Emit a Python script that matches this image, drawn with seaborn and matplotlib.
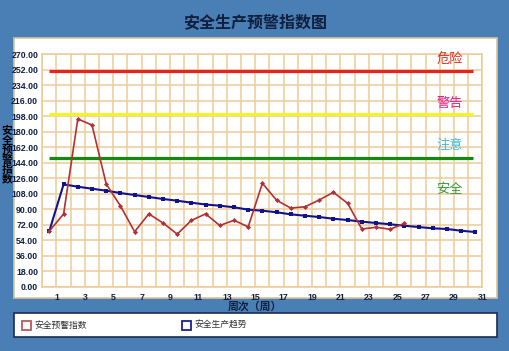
import matplotlib
matplotlib.use("Agg")
import matplotlib.pyplot as plt
import seaborn as sns
import pandas as pd
from matplotlib.patches import Rectangle

sns.set_style("white")
plt.rcParams['font.family'] = ['Noto Sans CJK SC', 'DejaVu Sans']

# ---- data ----
weeks_index = list(range(1, 27))
index_values = [64.9, 84.6, 194.7, 187.7, 119.4, 94.0, 64.1, 84.7, 74.2, 61.3,
                77.2, 84.7, 71.3, 77.3, 69.7, 120.2, 100.5, 91.5, 93.0, 100.8,
                109.7, 97.0, 67.2, 69.2, 66.9, 73.8]
weeks_trend = list(range(1, 32))
trend_values = [65.2, 119.0, 116.2, 113.9, 111.6, 108.9, 106.6, 104.3, 102.0, 100.0,
                97.7, 95.6, 94.2, 92.4, 89.6, 88.4, 86.6, 84.2, 82.6, 81.1,
                79.1, 77.6, 75.7, 74.2, 72.7, 71.0, 69.5, 68.0, 67.2, 65.2, 63.7]
threshold_names = ["危险", "警告", "注意", "安全"]
threshold_values = [250, 200, 150]
threshold_colors = ["#e8231f", "#f4f22a", "#128a12"]
zone_label_values = [263, 213, 164, 113]
zone_label_colors = ["#e0302a", "#e0208a", "#3cc0e0", "#3a9a3a"]
y_ticks = list(range(0, 271, 18))
x_tick_labels = [str(i) if i % 2 == 1 else "" for i in range(0, 32)]
series_names = ["安全预警指数", "安全生产趋势"]

title = "安全生产预警指数图"
x_label = "周次（周）"
y_label = "安全预警指数"

# ---- figure ----
W, H = 510, 351
fig = plt.figure(figsize=(W / 100, H / 100), dpi=100)
fig.patch.set_facecolor("#4a7fb6")

def fx(px):
    return px / W

def fy(py):
    return 1 - py / H

# white panel
fig.patches.append(Rectangle((fx(14), fy(298)), fx(497) - fx(14), fy(38) - fy(298),
                             transform=fig.transFigure, facecolor="white",
                             edgecolor="#d9c39a", linewidth=1.2, zorder=-5))
# legend panel
fig.patches.append(Rectangle((fx(14), fy(337)), fx(497) - fx(14), fy(313) - fy(337),
                             transform=fig.transFigure, facecolor="white",
                             edgecolor="#1c2c50", linewidth=1.2, zorder=-5))

left, right, top, bottom = 42.3, 482.5, 54, 287
ax = fig.add_axes([fx(left), fy(bottom), fx(right) - fx(left), fy(top) - fy(bottom)])
ax.set_facecolor("none")

grid_c = "#eccb98"
df_idx = pd.DataFrame({"x": [w - 0.5 for w in weeks_index], "y": index_values})
df_tr = pd.DataFrame({"x": [w - 0.5 for w in weeks_trend], "y": trend_values})

for v, c in zip(threshold_values, threshold_colors):
    ax.plot([0.5, 30.3], [v, v], color=c, lw=2.3, zorder=2, solid_capstyle="butt")

sns.lineplot(data=df_tr, x="x", y="y", ax=ax, color="#12128c", lw=1.5,
             marker="s", markersize=3.2, markeredgewidth=0, zorder=4)
sns.lineplot(data=df_idx, x="x", y="y", ax=ax, color="#b03232", lw=1.2,
             marker="D", markersize=2.6, markeredgewidth=0, zorder=5)

ax.set_xlim(0, 31)
ax.set_ylim(0, 270)
ax.set_xticks(range(0, 32))
ax.set_xticklabels(x_tick_labels, fontfamily="Liberation Sans", fontweight="bold",
                   fontsize=6.3, color="#102040")
ax.set_yticks(y_ticks)
ax.set_yticklabels([f"{v:.2f}" for v in y_ticks], fontfamily="Liberation Sans",
                   fontweight="bold", fontsize=6.3, color="#102040")
ax.tick_params(axis="x", length=2, width=1.2, color="#3a2a10", pad=2)
ax.tick_params(axis="y", length=0, pad=3)
ax.grid(True, color=grid_c, lw=1.1)
ax.set_axisbelow(True)
for s in ax.spines.values():
    s.set_color(grid_c)
    s.set_linewidth(1.1)
ax.set_xlabel("")
ax.set_ylabel("")

for name, v, c in zip(threshold_names, zone_label_values, zone_label_colors):
    ax.text(28.7, v, name, color=c, fontsize=9.5, ha="center", va="center", zorder=6)

# titles
fig.text(0.5, fy(22), title, ha="center", va="center", fontsize=11.5,
         fontweight="bold", color="#0f1f3c")
fig.text(fx(255), fy(306.5), x_label, ha="center", va="center", fontsize=7.8,
         fontweight="bold", color="#0f1f3c")
fig.text(fx(7), fy(155), "\n".join(y_label), ha="center", va="center", fontsize=7.8,
         fontweight="bold", color="#000000", linespacing=0.95)

# legend entries
leg_cols = ["#b85a5a", "#20208c"]
leg_x = [22, 182]
for name, c, x0 in zip(series_names, leg_cols, leg_x):
    fig.patches.append(Rectangle((fx(x0), fy(330)), fx(9), 9 / H,
                                 transform=fig.transFigure, facecolor="white",
                                 edgecolor=c, linewidth=1.3, zorder=3))
    fig.text(fx(x0 + 12), fy(325.5), name, ha="left", va="center", fontsize=6.3,
             color="#303030")

fig.savefig("out.png", dpi=100, facecolor=fig.get_facecolor())
